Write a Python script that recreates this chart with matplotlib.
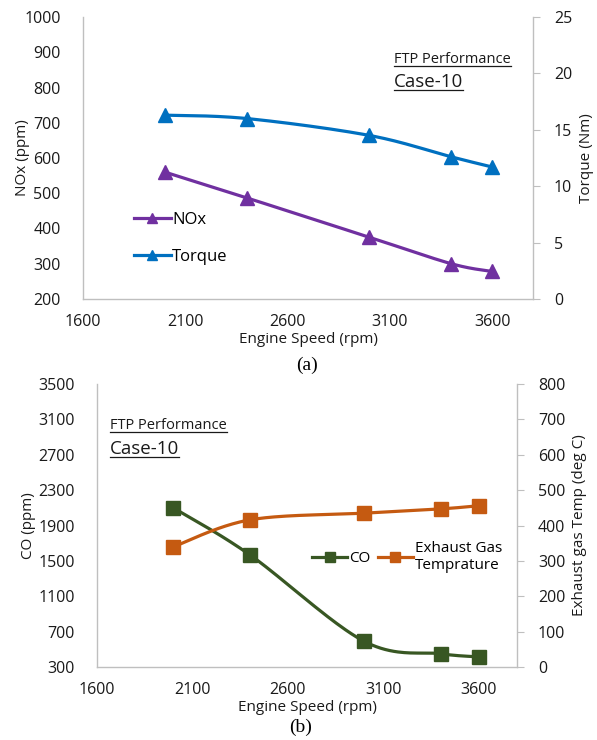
import numpy as np
import matplotlib
matplotlib.use("Agg")
import matplotlib.pyplot as plt
from matplotlib.lines import Line2D

plt.rcParams['font.family'] = ['Open Sans', 'DejaVu Sans']

# engine test data, FTP performance, case 10
speed = [2000, 2400, 3000, 3400, 3600]
nox = [560, 487, 375, 300, 278]
torque = [16.3, 16.0, 14.5, 12.6, 11.7]
co = [2100, 1570, 590, 450, 415]
exhaust_temp = [340, 416, 435, 447, 456]

x_ticks = [1600, 2100, 2600, 3100, 3600]

PURPLE = '#7030A0'
BLUE = '#0070C0'
GREEN = '#385723'
ORANGE = '#C55A11'
GRID = '#BFBFBF'
TXT = '#1a1a1a'
TICK_FS = 11.5
LABEL_FS = 11


def smooth(x, y, n=40):
    # excel-style smoothed line: cubic bezier through the points
    p = np.column_stack([x, y]).astype(float)
    p = np.vstack([p[0], p, p[-1]])
    t = np.linspace(0, 1, n)[:, None]
    segs = []
    for i in range(1, len(p) - 2):
        p0, p1, p2, p3 = p[i - 1], p[i], p[i + 1], p[i + 2]
        c1 = p1 + (p2 - p0) / 6
        c2 = p2 - (p3 - p1) / 6
        b = ((1 - t) ** 3) * p1 + 3 * ((1 - t) ** 2) * t * c1 + 3 * (1 - t) * t ** 2 * c2 + t ** 3 * p2
        segs.append(b if i == 1 else b[1:])
    s = np.vstack(segs)
    return s[:, 0], s[:, 1]


def style_axes(ax, ax2):
    for a in (ax, ax2):
        a.spines['top'].set_visible(False)
        for s in ('left', 'right', 'bottom'):
            a.spines[s].set_color(GRID)
            a.spines[s].set_linewidth(1.0)
    ax.spines['right'].set_visible(False)
    ax2.spines['left'].set_visible(False)
    ax2.spines['bottom'].set_visible(False)
    ax.tick_params(axis='y', length=0, labelsize=TICK_FS, colors=TXT, pad=16)
    ax.tick_params(axis='x', length=0, labelsize=TICK_FS, colors=TXT, pad=11)
    ax2.tick_params(axis='y', length=5, color=GRID, labelsize=TICK_FS, labelcolor=TXT, pad=10)
    ax.set_xlim(1600, 3800)
    ax.set_xticks(x_ticks)


def draw_series(ax, x, y, color, marker, ms):
    sx, sy = smooth(x, y)
    ax.plot(sx, sy, color=color, lw=2.3, zorder=3)
    ax.plot(x, y, ls='none', marker=marker, color=color, ms=ms, zorder=4)
    return Line2D([], [], color=color, lw=2.3, marker=marker, ms=ms * 0.75)


def underlined(fig, x, y, s, size):
    t = fig.text(x, y, s, fontsize=size, color=TXT, ha='left', va='baseline')
    fig.canvas.draw()
    bb = t.get_window_extent().transformed(fig.transFigure.inverted())
    uy = y - 0.004
    fig.add_artist(Line2D([bb.x0, bb.x1], [uy, uy], transform=fig.transFigure,
                          color=TXT, lw=0.9))


fig = plt.figure(figsize=(5.97, 7.40), dpi=100)

# (a) NOx and torque
ax = fig.add_axes([0.139, 0.596, 0.754, 0.381])
ax2 = ax.twinx()
style_axes(ax, ax2)
ax.set_ylim(200, 1000)
ax.set_yticks(np.arange(200, 1001, 100))
ax2.set_ylim(0, 25)
ax2.set_yticks(np.arange(0, 26, 5))
h_nox = draw_series(ax, speed, nox, PURPLE, '^', 10)
h_tq = draw_series(ax2, speed, torque, BLUE, '^', 10)
ax.set_ylabel('NOx (ppm)', fontsize=LABEL_FS, color=TXT, labelpad=-4)
ax2.set_ylabel('Torque (Nm)', fontsize=LABEL_FS, color=TXT, labelpad=5)
ax.set_xlabel('Engine Speed (rpm)', fontsize=LABEL_FS, color=TXT, labelpad=1)
ax2.legend([h_nox, h_tq], ['NOx', 'Torque'], loc='center left',
           bbox_to_anchor=(0.08, 0.215), frameon=False, fontsize=12,
           handlelength=2.2, handletextpad=0.1, labelspacing=1.3)

# (b) CO and exhaust gas temperature
bx = fig.add_axes([0.1625, 0.0986, 0.7035, 0.3824])
bx2 = bx.twinx()
style_axes(bx, bx2)
bx.set_ylim(300, 3500)
bx.set_yticks(np.arange(300, 3501, 400))
bx2.set_ylim(0, 800)
bx2.set_yticks(np.arange(0, 801, 100))
h_co = draw_series(bx, speed, co, GREEN, 's', 10)
h_ex = draw_series(bx2, speed, exhaust_temp, ORANGE, 's', 10)
bx.set_ylabel('CO (ppm)', fontsize=LABEL_FS, color=TXT, labelpad=2)
bx2.set_ylabel('Exhaust gas Temp (deg C)', fontsize=LABEL_FS, color=TXT, labelpad=5)
bx.set_xlabel('Engine Speed (rpm)', fontsize=LABEL_FS, color=TXT, labelpad=1)
bx2.legend([h_co, h_ex], ['CO', 'Exhaust Gas\nTemprature'], loc='upper left',
           bbox_to_anchor=(0.48, 0.495), ncol=2, frameon=False, fontsize=11,
           handlelength=2.3, handletextpad=0.1, columnspacing=0.5,
           labelspacing=0.2)

fig.text(0.514, 1 - 365 / 740, '(a)', fontsize=14, family='Liberation Serif',
         ha='center', va='center', color='black')
fig.text(0.503, 1 - 727 / 740, '(b)', fontsize=14, family='Liberation Serif',
         ha='center', va='center', color='black')

underlined(fig, 394 / 597, 1 - 63 / 740, 'FTP Performance', 10.5)
underlined(fig, 394 / 597, 1 - 87 / 740, 'Case-10', 13.5)
underlined(fig, 110 / 597, 1 - 429 / 740, 'FTP Performance', 10.5)
underlined(fig, 110 / 597, 1 - 454 / 740, 'Case-10', 13.5)

fig.savefig('out.png', dpi=100)
